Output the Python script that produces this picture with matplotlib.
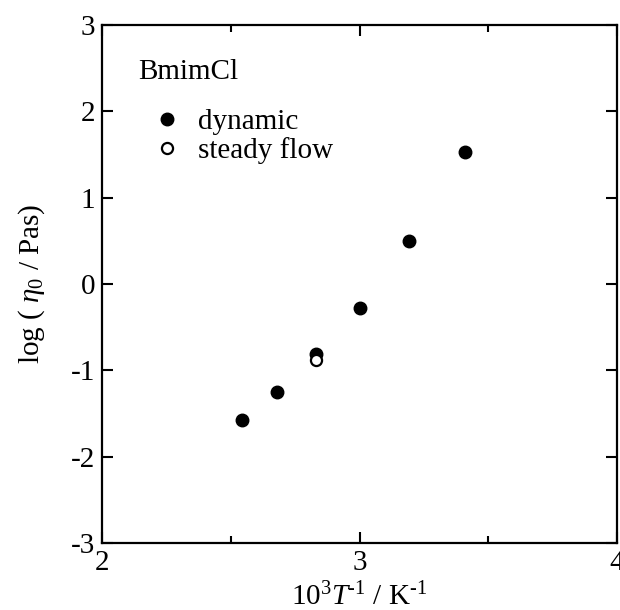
import matplotlib
matplotlib.use("Agg")
import matplotlib.pyplot as plt
from matplotlib.ticker import MultipleLocator

plt.rcParams['font.family'] = ['Liberation Serif', 'DejaVu Serif']
plt.rcParams['mathtext.fontset'] = 'custom'
plt.rcParams['mathtext.rm'] = 'Liberation Serif'
plt.rcParams['mathtext.it'] = 'Liberation Serif:italic'
plt.rcParams['mathtext.bf'] = 'Liberation Serif:bold'

# Data
dyn_x = [3.411, 3.193, 3.002, 2.832, 2.681, 2.544]
dyn_y = [1.53, 0.50, -0.28, -0.81, -1.25, -1.58]
stf_x = [2.832]
stf_y = [-0.88]

x_ticks = [2, 3, 4]
y_ticks = [-3, -2, -1, 0, 1, 2, 3]
x_ticklabels = ['2', '3', '4']
y_ticklabels = ['-3', '-2', '-1', '0', '1', '2', '3']

FS = 21

fig = plt.figure(figsize=(6.2, 6.1), dpi=100)
ax = fig.add_axes([102/620, 1-543/610, 515/620, 518/610])

ax.plot(dyn_x, dyn_y, 'o', color='black', markersize=9, label='dynamic', zorder=3)
ax.plot(stf_x, stf_y, 'o', markerfacecolor='white', markeredgecolor='black',
        markeredgewidth=1.6, markersize=8, label='steady flow', zorder=4)

ax.set_xlim(2, 4)
ax.set_ylim(-3, 3)
ax.set_xticks(x_ticks)
ax.set_xticklabels(x_ticklabels)
ax.set_yticks(y_ticks)
ax.set_yticklabels(y_ticklabels)
ax.xaxis.set_minor_locator(MultipleLocator(0.5))

ax.tick_params(which='both', direction='in', top=True, right=True, width=1.5,
               labelsize=FS, pad=5)
ax.tick_params(which='major', length=8)
ax.tick_params(which='minor', length=5)
for s in ax.spines.values():
    s.set_linewidth(1.6)

ax.set_xlabel('10$^{3}$$T$$^{\u2010 1}$ / K$^{\u2010 1}$', fontsize=FS, labelpad=5)
ax.set_ylabel(r'log ( $\eta_0$ / Pas)', fontsize=FS, labelpad=17)

ax.text(0.07, 0.909, 'BmimCl', transform=ax.transAxes, fontsize=FS,
        ha='left', va='center')
ax.legend(loc='upper left', bbox_to_anchor=(0.098, 0.838), frameon=False,
          fontsize=FS, handlelength=1.0, handletextpad=0.57, labelspacing=0.055,
          borderpad=0.0, borderaxespad=0.0, numpoints=1)

fig.savefig('out.png', dpi=100)
